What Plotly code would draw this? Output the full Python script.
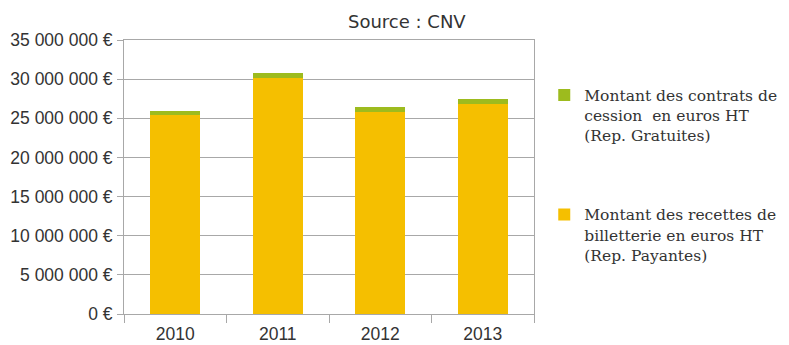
import plotly.graph_objects as go

years = ["2010", "2011", "2012", "2013"]
billetterie = [25.4e6, 30.1e6, 25.85e6, 26.8e6]
cession = [0.55e6, 0.64e6, 0.63e6, 0.65e6]
ytick_vals = [0, 5e6, 10e6, 15e6, 20e6, 25e6, 30e6, 35e6]
ytick_text = ["0 €", "5 000 000 €", "10 000 000 €", "15 000 000 €",
              "20 000 000 €", "25 000 000 €", "30 000 000 €", "35 000 000 €"]
name_billet = "Montant des recettes de<br>billetterie en euros HT<br>(Rep. Payantes)"
name_cession = "Montant des contrats de<br>cession  en euros HT<br>(Rep. Gratuites)"

ORANGE = "#F5BF00"
GREEN = "#9DBB1E"
GRID = "#A8A8A8"

fig = go.Figure()
fig.add_trace(go.Bar(x=years, y=billetterie, name=name_billet,
                     marker=dict(color=ORANGE, line=dict(width=0)),
                     legendgroup="b", legendrank=2))
fig.add_trace(go.Bar(x=years, y=cession, name=name_cession,
                     marker=dict(color=GREEN, line=dict(width=0)),
                     legendgroup="c", legendrank=1))

fig.update_layout(
    width=781, height=337,
    margin=dict(l=116, r=255, t=32, b=31, autoexpand=False),
    barmode="stack", bargap=0.51,
    plot_bgcolor="white", paper_bgcolor="white",
    font=dict(family="Liberation Sans, Arial, sans-serif", size=17.5, color="#333333"),
    legend=dict(x=1.025, y=0.86, xanchor="left", yanchor="top",
                traceorder="grouped", tracegroupgap=56, valign="top",
                font=dict(family="DejaVu Serif, serif", size=15.5, color="#333333"),
                itemwidth=30, bgcolor="rgba(0,0,0,0)"),
    annotations=[dict(text="Source : CNV", xref="paper", yref="paper",
                      x=0.69, y=1.0, xanchor="center", yanchor="bottom",
                      showarrow=False, yshift=6,
                      font=dict(family="DejaVu Sans, sans-serif", size=18, color="#333333"))],
)
fig.update_yaxes(range=[0, 35e6], tickvals=ytick_vals, ticktext=ytick_text,
                 showgrid=True, gridcolor=GRID, gridwidth=1,
                 showline=True, linecolor=GRID, linewidth=1, mirror=True,
                 ticks="outside", ticklen=6, tickcolor=GRID, zeroline=False,
                 ticklabelstandoff=1, tickfont=dict(size=17.5))
fig.update_xaxes(showline=True, linecolor=GRID, linewidth=1, mirror=True,
                 ticks="outside", ticklen=8, tickcolor=GRID, tickson="boundaries",
                 ticklabelstandoff=4, tickfont=dict(size=17.5))

fig.write_html("out.html")
